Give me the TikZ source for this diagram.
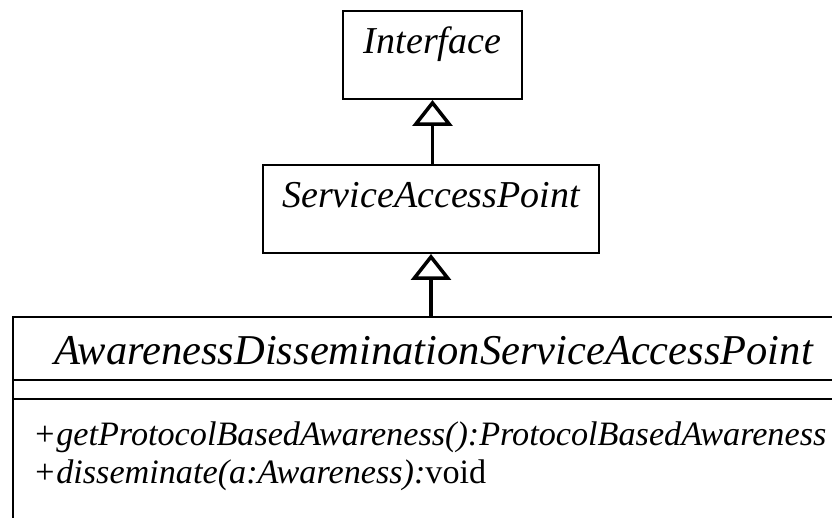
\documentclass[tikz,border=0pt]{standalone}
\usepackage{fontspec}
\setmainfont{Liberation Serif}
\usetikzlibrary{arrows.meta,positioning}

\tikzset{
  classbox/.style={draw, line width=2pt, inner sep=0pt, text height=43pt, text depth=45pt},
  opline/.style={anchor=base west, inner sep=0pt, font=\fontsize{34.2}{38}\selectfont\itshape},
  inherits/.style={-{Triangle[open,length=26pt,width=40pt]}, line width=3.5pt},
}

\begin{document}
\begin{tikzpicture}[x=1pt,y=-1pt]
\useasboundingbox (0,0) rectangle (832,518);
\clip (0,0) rectangle (832,518);
% the two abstract classes on top
\node[classbox, anchor=north west, minimum width=179pt]
  (iface) at (342,10) {\fontsize{38}{40}\selectfont\itshape Interface};
\node[classbox, anchor=north west, minimum width=336pt]
  (sap) at (262,164) {\fontsize{38}{40}\selectfont\itshape ServiceAccessPoint};
% the concrete class, cut off at the right and bottom
\node[draw, line width=2pt, anchor=north west, minimum width=840pt, minimum height=220pt] (adsap) at (12,316) {};
\node[anchor=base west, inner sep=0pt] (adsapname) at (54,364)
  {\fontsize{42.5}{44}\selectfont\itshape AwarenessDisseminationServiceAccessPoint};
\draw[line width=2pt] (12,380) -- (845,380);
\draw[line width=2pt] (12,399) -- (845,399);
\node[opline] (op1) at (33,445) {+getProtocolBasedAwareness():ProtocolBasedAwareness};
\node[opline] (op2) at (33,483) {+disseminate(a:Awareness):\upshape void};
% generalisations
\draw[inherits] (sap.north -| iface.south) -- (iface.south);
\draw[inherits] (adsap.north -| sap.south) -- (sap.south);
\end{tikzpicture}
\end{document}
